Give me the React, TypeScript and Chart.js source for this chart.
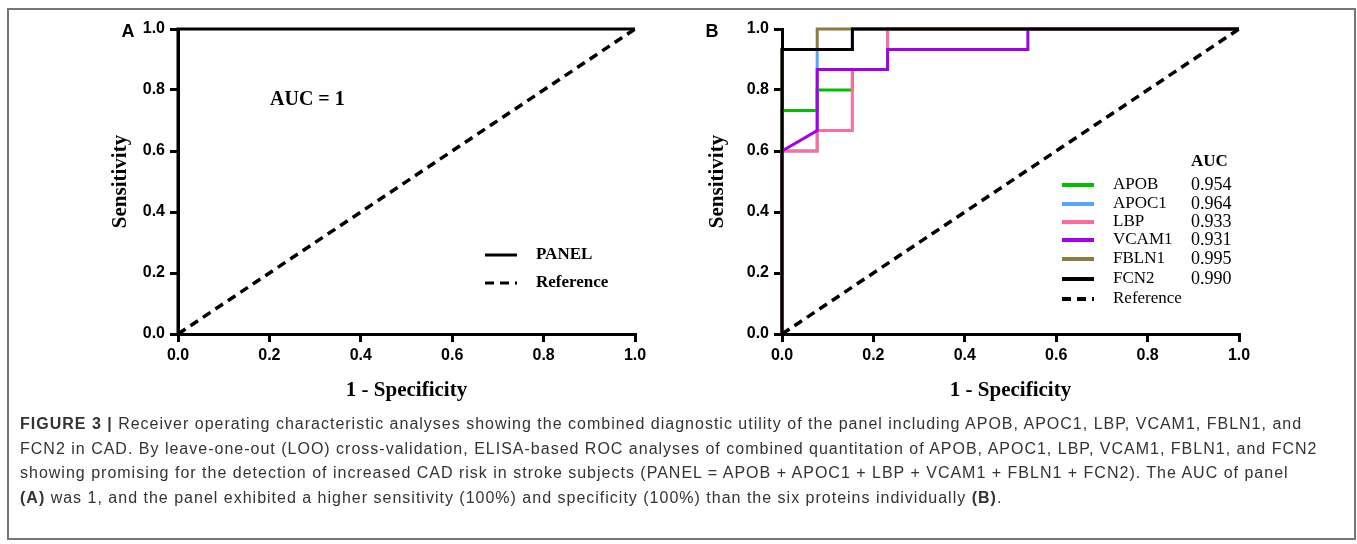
import React, { useEffect, useRef } from "react";
import { Chart, registerables } from "chart.js";

Chart.register(...registerables);

// ---------- data ----------
const tickValues = [0, 0.2, 0.4, 0.6, 0.8, 1.0];

const referenceX = [0, 1];
const referenceY = [0, 1];

const panelX = [0, 0, 1];
const panelY = [0, 1, 1];

const markerLabels = ["APOB", "APOC1", "LBP", "VCAM1", "FBLN1", "FCN2"];
const aucValues = ["0.954", "0.964", "0.933", "0.931", "0.995", "0.990"];

const apobX = [0, 0, 0.077, 0.077, 0.154, 0.154, 0.231, 0.231, 1];
const apobY = [0, 0.733, 0.733, 0.8, 0.8, 0.867, 0.867, 1, 1];

const apoc1X = [0, 0, 0.077, 0.077, 0.154, 0.154, 1];
const apoc1Y = [0, 0.6, 0.6, 0.933, 0.933, 1, 1];

const lbpX = [0, 0, 0.077, 0.077, 0.154, 0.154, 0.231, 0.231, 1];
const lbpY = [0, 0.6, 0.6, 0.667, 0.667, 0.867, 0.867, 1, 1];

const vcam1X = [0, 0, 0.077, 0.077, 0.231, 0.231, 0.538, 0.538, 1];
const vcam1Y = [0, 0.6, 0.667, 0.867, 0.867, 0.933, 0.933, 1, 1];

const fbln1X = [0, 0, 0.077, 0.077, 1];
const fbln1Y = [0, 0.933, 0.933, 1, 1];

const fcn2X = [0, 0, 0.154, 0.154, 1];
const fcn2Y = [0, 0.933, 0.933, 1, 1];

const markerXs = [apobX, apoc1X, lbpX, vcam1X, fbln1X, fcn2X];
const markerYs = [apobY, apoc1Y, lbpY, vcam1Y, fbln1Y, fcn2Y];

// ---------- styles ----------
const markerColors = ["#00c000", "#55a5ff", "#ff6b9a", "#a200e6", "#8b7b3d", "#000000"];
const SANS = '"Liberation Sans", Arial, sans-serif';
const SERIF = '"Liberation Serif", "Times New Roman", serif';

const toPoints = (xs: number[], ys: number[]) => xs.map((x, i) => ({ x, y: ys[i] }));

const figurePlugin = {
  id: "figureDecor",
  afterDraw(chart: any, _args: any, opts: any) {
    const ctx = chart.ctx as CanvasRenderingContext2D;
    ctx.save();
    ctx.fillStyle = "#000";
    ctx.font = `bold 18px ${SANS}`;
    ctx.textAlign = "center";
    ctx.textBaseline = "middle";
    ctx.fillText(opts.letter, opts.letterX, opts.letterY);

    if (opts.note) {
      ctx.font = `bold 20px ${SERIF}`;
      ctx.textAlign = "left";
      ctx.fillText(opts.note, opts.noteX, opts.noteY);
    }
    if (opts.header) {
      ctx.font = `bold 17px ${SERIF}`;
      ctx.textAlign = "left";
      ctx.fillText(opts.header, opts.valueX, opts.headerY);
    }
    (opts.rows || []).forEach((row: any) => {
      const ds = chart.data.datasets[row.index];
      ctx.save();
      ctx.strokeStyle = ds.borderColor;
      ctx.lineWidth = opts.sampleWidth;
      ctx.setLineDash(ds.borderDash || []);
      ctx.beginPath();
      ctx.moveTo(opts.lineX0, row.y);
      ctx.lineTo(opts.lineX1, row.y);
      ctx.stroke();
      ctx.restore();
      ctx.fillStyle = "#000";
      ctx.font = opts.labelFont;
      ctx.textAlign = "left";
      ctx.textBaseline = "middle";
      ctx.fillText(ds.label, opts.textX, row.y);
      if (row.value) {
        ctx.font = opts.valueFont || opts.labelFont;
        ctx.fillText(row.value, opts.valueX, row.y);
      }
    });
    ctx.restore();
  },
};

function makeOptions(p: {
  padRight: number;
  yWidth: number;
  yTitlePad: number;
  decor: any;
}) {
  const tickFont = { family: SANS, size: 16, weight: "bold" as const };
  const titleFont = { family: SERIF, size: 21, weight: "bold" as const };
  const grid = {
    drawOnChartArea: false,
    drawTicks: true,
    tickLength: 8,
    lineWidth: 3,
    color: "#000",
  };
  const border = { display: true, width: 3, color: "#000" };
  const setTicks = (s: any) => {
    s.ticks = tickValues.map((v) => ({ value: v }));
  };
  return {
    animation: false,
    responsive: false,
    maintainAspectRatio: false,
    layout: { padding: { left: 0, top: 29, right: p.padRight, bottom: 0 } },
    plugins: {
      legend: { display: false },
      tooltip: { enabled: false },
      figureDecor: p.decor,
    },
    elements: { point: { radius: 0 }, line: { tension: 0 } },
    scales: {
      x: {
        type: "linear",
        min: 0,
        max: 1,
        z: 1,
        afterBuildTicks: setTicks,
        afterFit: (s: any) => {
          s.height = 86;
        },
        ticks: {
          font: tickFont,
          color: "#000",
          padding: 4,
          maxRotation: 0,
          autoSkip: false,
          callback: (v: number) => Number(v).toFixed(1),
        },
        grid,
        border,
        title: {
          display: true,
          text: "1 - Specificity",
          font: titleFont,
          color: "#000",
          padding: { top: 0, bottom: 17 },
        },
      },
      y: {
        type: "linear",
        min: 0,
        max: 1,
        z: 1,
        afterBuildTicks: setTicks,
        afterFit: (s: any) => {
          s.width = p.yWidth;
        },
        ticks: {
          font: tickFont,
          color: "#000",
          padding: 5,
          autoSkip: false,
          callback: (v: number) => Number(v).toFixed(1),
        },
        grid,
        border,
        title: {
          display: true,
          text: "Sensitivity",
          font: titleFont,
          color: "#000",
          padding: { top: p.yTitlePad, bottom: 0 },
        },
      },
    },
  };
}

function PanelA() {
  const ref = useRef<HTMLCanvasElement>(null);
  useEffect(() => {
    const chart = new Chart(ref.current!, {
      type: "line",
      data: {
        datasets: [
          {
            label: "PANEL",
            data: toPoints(panelX, panelY),
            borderColor: "#000",
            borderWidth: 3,
            clip: 6,
          },
          {
            label: "Reference",
            data: toPoints(referenceX, referenceY),
            borderColor: "#000",
            borderWidth: 3.5,
            borderDash: [9, 6],
            clip: 6,
          },
        ],
      },
      options: makeOptions({
        padRight: 45,
        yWidth: 178,
        yTitlePad: 108,
        decor: {
          letter: "A",
          letterX: 128,
          letterY: 32,
          note: "AUC = 1",
          noteX: 270,
          noteY: 100,
          lineX0: 485,
          lineX1: 517,
          textX: 536,
          sampleWidth: 3,
          labelFont: `bold 17px ${SERIF}`,
          rows: [
            { index: 0, y: 255 },
            { index: 1, y: 283 },
          ],
        },
      }) as any,
      plugins: [figurePlugin],
    });
    return () => chart.destroy();
  }, []);
  return (
    <canvas
      ref={ref}
      width={680}
      height={420}
      style={{ position: "absolute", left: 0, top: 0, width: 680, height: 420 }}
    />
  );
}

function PanelB() {
  const ref = useRef<HTMLCanvasElement>(null);
  useEffect(() => {
    const datasets: any[] = markerLabels.map((label, i) => ({
      label,
      data: toPoints(markerXs[i], markerYs[i]),
      borderColor: markerColors[i],
      borderWidth: 3,
      order: markerLabels.length - i,
      clip: 6,
    }));
    datasets.push({
      label: "Reference",
      data: toPoints(referenceX, referenceY),
      borderColor: "#000",
      borderWidth: 3.5,
      borderDash: [9, 6],
      order: 0,
      clip: 6,
    });
    const rowYs = [185, 204, 222, 240, 259, 279, 299];
    const chart = new Chart(ref.current!, {
      type: "line",
      data: { datasets },
      options: makeOptions({
        padRight: 118,
        yWidth: 102,
        yTitlePad: 25,
        decor: {
          letter: "B",
          letterX: 32,
          letterY: 32,
          header: "AUC",
          headerY: 162,
          lineX0: 382,
          lineX1: 414,
          textX: 433,
          valueX: 511,
          sampleWidth: 4,
          labelFont: `17px ${SERIF}`,
          valueFont: `18px ${SERIF}`,
          rows: rowYs.map((y, i) => ({ index: i, y, value: aucValues[i] })),
        },
      }) as any,
      plugins: [figurePlugin],
    });
    return () => chart.destroy();
  }, []);
  return (
    <canvas
      ref={ref}
      width={677}
      height={420}
      style={{ position: "absolute", left: 680, top: 0, width: 677, height: 420 }}
    />
  );
}

export default function App() {
  return (
    <div
      style={{
        position: "absolute",
        left: 0,
        top: 0,
        width: 1357,
        height: 544,
        background: "#fff",
        overflow: "hidden",
      }}
    >
      <div
        style={{
          position: "absolute",
          left: 7,
          top: 8,
          width: 1345,
          height: 528,
          border: "2px solid #777",
        }}
      />
      <PanelA />
      <PanelB />
      <div
        style={{
          position: "absolute",
          left: 20,
          top: 412,
          font: `16px ${SANS}`,
          letterSpacing: "1px",
          lineHeight: "24.5px",
          color: "#333",
          whiteSpace: "nowrap",
        }}
      >
        <b>FIGURE 3 |</b> Receiver operating characteristic analyses showing the combined diagnostic utility of the panel including APOB, APOC1, LBP, VCAM1, FBLN1, and
        <br />
        FCN2 in CAD. By leave-one-out (LOO) cross-validation, ELISA-based ROC analyses of combined quantitation of APOB, APOC1, LBP, VCAM1, FBLN1, and FCN2
        <br />
        showing promising for the detection of increased CAD risk in stroke subjects (PANEL = APOB + APOC1 + LBP + VCAM1 + FBLN1 + FCN2). The AUC of panel
        <br />
        <b>(A)</b> was 1, and the panel exhibited a higher sensitivity (100%) and specificity (100%) than the six proteins individually <b>(B)</b>.
      </div>
    </div>
  );
}
